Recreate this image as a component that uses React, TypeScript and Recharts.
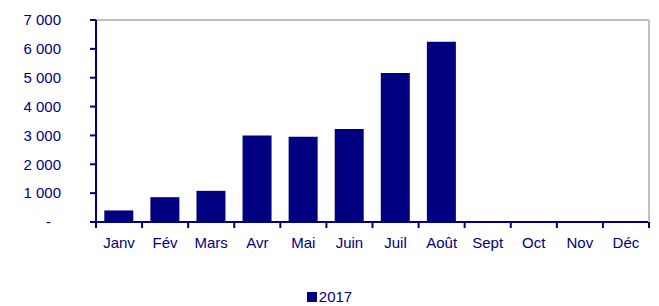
import { BarChart, Bar, XAxis, YAxis, CartesianGrid, Legend } from 'recharts';

const months = ['Janv', 'Fév', 'Mars', 'Avr', 'Mai', 'Juin', 'Juil', 'Août', 'Sept', 'Oct', 'Nov', 'Déc'];
const values2017: (number | null)[] = [400, 860, 1080, 3000, 2950, 3220, 5160, 6250, null, null, null, null];
const yTicks = [0, 1000, 2000, 3000, 4000, 5000, 6000, 7000];

const NAVY = '#000080';
const FONT = '"Liberation Sans", Arial, sans-serif';

const data = months.map((m, i) => ({ month: m, v2017: values2017[i] }));

const fmt = (v: number) => (v === 0 ? '-' : v.toString().replace(/\B(?=(\d{3})+(?!\d))/g, ' '));

function YTick(props: any) {
  const { x, y, payload } = props;
  const v = payload.value;
  return (
    <text x={v === 0 ? x - 10 : x} y={y} dy="0.355em" textAnchor="end" fill={NAVY} fontSize={15} fontFamily={FONT}>
      {fmt(v)}
    </text>
  );
}

function XTick(props: any) {
  const { x, y, payload, index, width, visibleTicksCount } = props;
  const half = payload.offset ?? width / visibleTicksCount / 2;
  const last = index === visibleTicksCount - 1;
  return (
    <g>
      <line x1={x - half} x2={x - half} y1={y - 15} y2={y - 9} stroke={NAVY} strokeWidth={2} />
      {last && <line x1={x + half} x2={x + half} y1={y - 15} y2={y - 9} stroke={NAVY} strokeWidth={2} />}
      <text x={x} y={y} dy="0.71em" textAnchor="middle" fill={NAVY} fontSize={15} fontFamily={FONT}>
        {payload.value}
      </text>
    </g>
  );
}

function LegendBox() {
  return (
    <div style={{ height: 54, display: 'flex', justifyContent: 'center', alignItems: 'flex-end', fontFamily: FONT }}>
      <div style={{ display: 'flex', alignItems: 'flex-end', marginBottom: 2 }}>
        <span style={{ width: 10, height: 10, background: NAVY, display: 'inline-block', marginRight: 2, marginBottom: 2 }} />
        <span style={{ fontSize: 15, lineHeight: '15px', color: NAVY }}>2017</span>
      </div>
    </div>
  );
}

export default function App() {
  return (
    <div style={{ position: 'absolute', left: 0, top: 0, background: '#fff' }}>
      <BarChart width={659} height={306} data={data} margin={{ top: 20, right: 0, left: 0, bottom: 0 }} barCategoryGap="18%">
        <CartesianGrid horizontal vertical={false} stroke="#c0c0c0" strokeWidth={2} />
        <XAxis
          dataKey="month"
          height={30}
          tickSize={6}
          tickMargin={9}
          tickLine={false}
          axisLine={{ stroke: NAVY, strokeWidth: 2 }}
          tick={<XTick />}
          interval={0}
        />
        <YAxis
          yAxisId="left"
          width={96}
          domain={[0, 7000]}
          ticks={yTicks}
          tickSize={6}
          tickMargin={29}
          tickLine={{ stroke: NAVY, strokeWidth: 2 }}
          axisLine={{ stroke: NAVY, strokeWidth: 2 }}
          tick={<YTick />}
          interval={0}
        />
        <YAxis
          yAxisId="right"
          orientation="right"
          width={10}
          domain={[0, 7000]}
          ticks={yTicks}
          tick={false}
          tickLine={false}
          axisLine={{ stroke: '#c0c0c0', strokeWidth: 2 }}
        />
        <Legend verticalAlign="bottom" content={<LegendBox />} />
        <Bar yAxisId="left" dataKey="v2017" name="2017" fill={NAVY} isAnimationActive={false} />
      </BarChart>
    </div>
  );
}
